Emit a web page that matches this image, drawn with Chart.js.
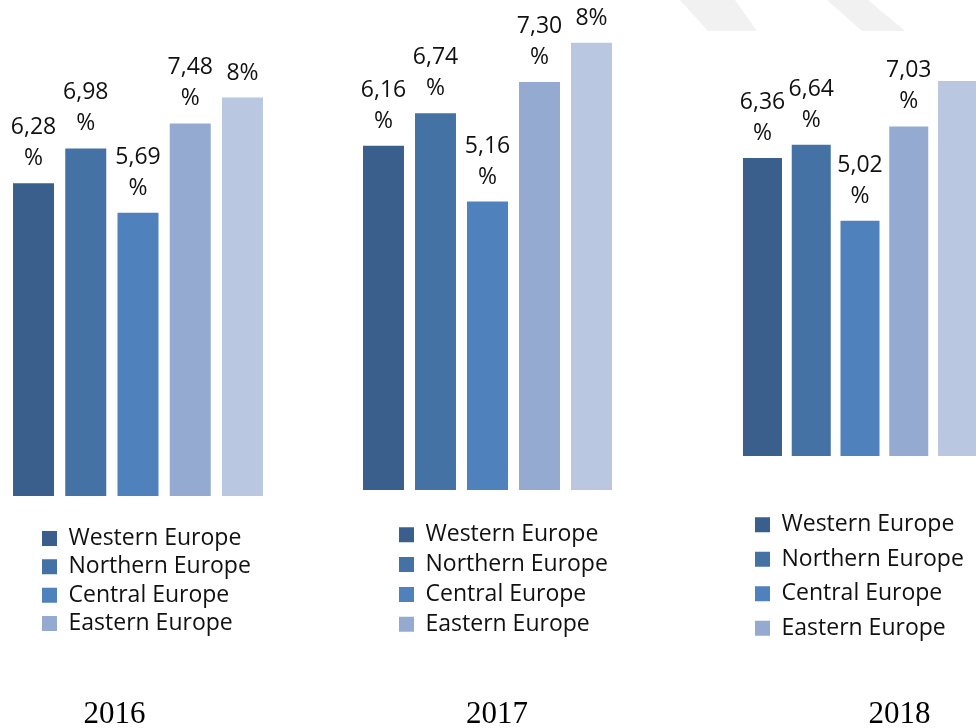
<!DOCTYPE html>
<html>
<head>
<meta charset="utf-8">
<script src="https://cdn.jsdelivr.net/npm/chart.js@4"></script>
<style>
  html, body { margin: 0; padding: 0; background: #ffffff; overflow: hidden; width: 976px; height: 728px; }
  #wrap { position: relative; width: 976px; height: 728px; overflow: hidden; }
  canvas { position: absolute; left: 0; top: 0; }
  .year { position: absolute; width: 200px; text-align: center; font-family: "Liberation Serif", "Times New Roman", serif; font-size: 31px; line-height: 31px; color: #000; }
  svg { position: absolute; left: 0; top: 0; }
</style>
</head>
<body>
<div id="wrap">
  <svg width="976" height="728">
    <polygon points="680,0 735,0 757,31 708,31" fill="#f1f1f1"/>
    <polygon points="827,0 868,0 905,31 862,31" fill="#f1f1f1"/>
  </svg>
  <canvas id="c2016" width="1000" height="728" style="width:1000px;height:728px"></canvas>
  <canvas id="c2017" width="1000" height="728" style="width:1000px;height:728px"></canvas>
  <canvas id="c2018" width="1000" height="728" style="width:1000px;height:728px"></canvas>
  <div class="year" id="y2016"></div>
  <div class="year" id="y2017"></div>
  <div class="year" id="y2018"></div>
</div>
<script>
// ---- data ----
const years = ['2016', '2017', '2018'];
const regions = ['Western Europe', 'Northern Europe', 'Central Europe', 'Eastern Europe', 'Southern Europe'];
const values2016 = [6.28, 6.98, 5.69, 7.48, 8];
const values2017 = [6.16, 6.74, 5.16, 7.30, 8];
const values2018 = [6.36, 6.64, 5.02, 7.03, 8];
const legendCount = 4;              // only the first four series appear in the legend
const hiddenLabels2018 = [4];       // the last label of 2018 is outside the picture

// ---- style ----
const colors = ['#3B5F8C', '#4472A5', '#4F81BD', '#95AAD1', '#B9C7E1'];
const yMax = 8.5;

const panels = [
  { id: 'c2016', year: years[0], values: values2016, hidden: [],
    padding: { left: 7.4, right: 731.4, top: 72.7, bottom: 232 }, barPct: 0.785,
    legend: { boxX: 42, boxTop: 531, pitch: 28.33 }, yearX: 114.5 },
  { id: 'c2017', year: years[1], values: values2017, hidden: [],
    padding: { left: 357.5, right: 382.5, top: 14.85, bottom: 238 }, barPct: 0.788,
    legend: { boxX: 399, boxTop: 527.3, pitch: 29.8 }, yearX: 497 },
  { id: 'c2018', year: years[2], values: values2018, hidden: hiddenLabels2018,
    padding: { left: 738.1, right: 18.1, top: 57.6, bottom: 272 }, barPct: 0.8,
    legend: { boxX: 755, boxTop: 517.3, pitch: 34.47 }, yearX: 899.5 }
];

const LEGEND_FONT = 23;
const BOX = 15;

const legendPlace = {
  id: 'legendPlace',
  afterLayout(chart, args, opts) {
    const lg = chart.legend;
    if (!lg || opts.left === undefined) return;
    const w = 400, h = 400;
    lg.left = opts.left; lg.right = opts.left + w;
    lg.top = opts.top; lg.bottom = opts.top + h;
    lg.width = w; lg.height = h;
  }
};

const valueLabels = {
  id: 'valueLabels',
  afterDatasetsDraw(chart, args, opts) {
    const ctx = chart.ctx;
    ctx.save();
    ctx.font = '23px "Open Sans"';
    ctx.fillStyle = '#111111';
    ctx.textAlign = 'center';
    ctx.textBaseline = 'alphabetic';
    chart.data.datasets.forEach((ds, i) => {
      if ((opts.hidden || []).includes(i)) return;
      const el = chart.getDatasetMeta(i).data[0];
      const v = ds.data[0];
      const base = el.y - 18;
      if (Number.isInteger(v)) {
        ctx.fillText(v + '%', el.x, base);
      } else {
        ctx.fillText(v.toFixed(2).replace('.', ','), el.x, base - 31);
        ctx.fillText('%', el.x, base);
      }
    });
    ctx.restore();
  }
};

panels.forEach(p => {
  const pad = p.legend.pitch - LEGEND_FONT;
  new Chart(document.getElementById(p.id), {
    type: 'bar',
    data: {
      labels: [p.year],
      datasets: regions.map((r, i) => ({
        label: r,
        data: [p.values[i]],
        backgroundColor: colors[i],
        borderWidth: 0,
        barPercentage: p.barPct,
        categoryPercentage: 1
      }))
    },
    options: {
      responsive: false,
      animation: false,
      devicePixelRatio: 1,
      layout: { padding: p.padding },
      scales: {
        x: { display: false, offset: true },
        y: { display: false, min: 0, max: yMax }
      },
      plugins: {
        tooltip: { enabled: false },
        title: { display: false },
        legend: {
          display: true,
          position: 'chartArea',
          align: 'start',
          labels: {
            boxWidth: BOX,
            boxHeight: BOX,
            padding: pad,
            color: '#111111',
            font: { family: '"Open Sans"', size: LEGEND_FONT },
            filter: (item) => item.datasetIndex < legendCount
          }
        },
        legendPlace: { left: p.legend.boxX - pad, top: p.legend.boxTop - (LEGEND_FONT - BOX) / 2 - pad },
        valueLabels: { hidden: p.hidden }
      }
    },
    plugins: [legendPlace, valueLabels]
  });
  const y = document.getElementById('y' + p.year);
  y.textContent = p.year;
  y.style.left = (p.yearX - 100) + 'px';
  y.style.top = '697px';
});
</script>
</body>
</html>
